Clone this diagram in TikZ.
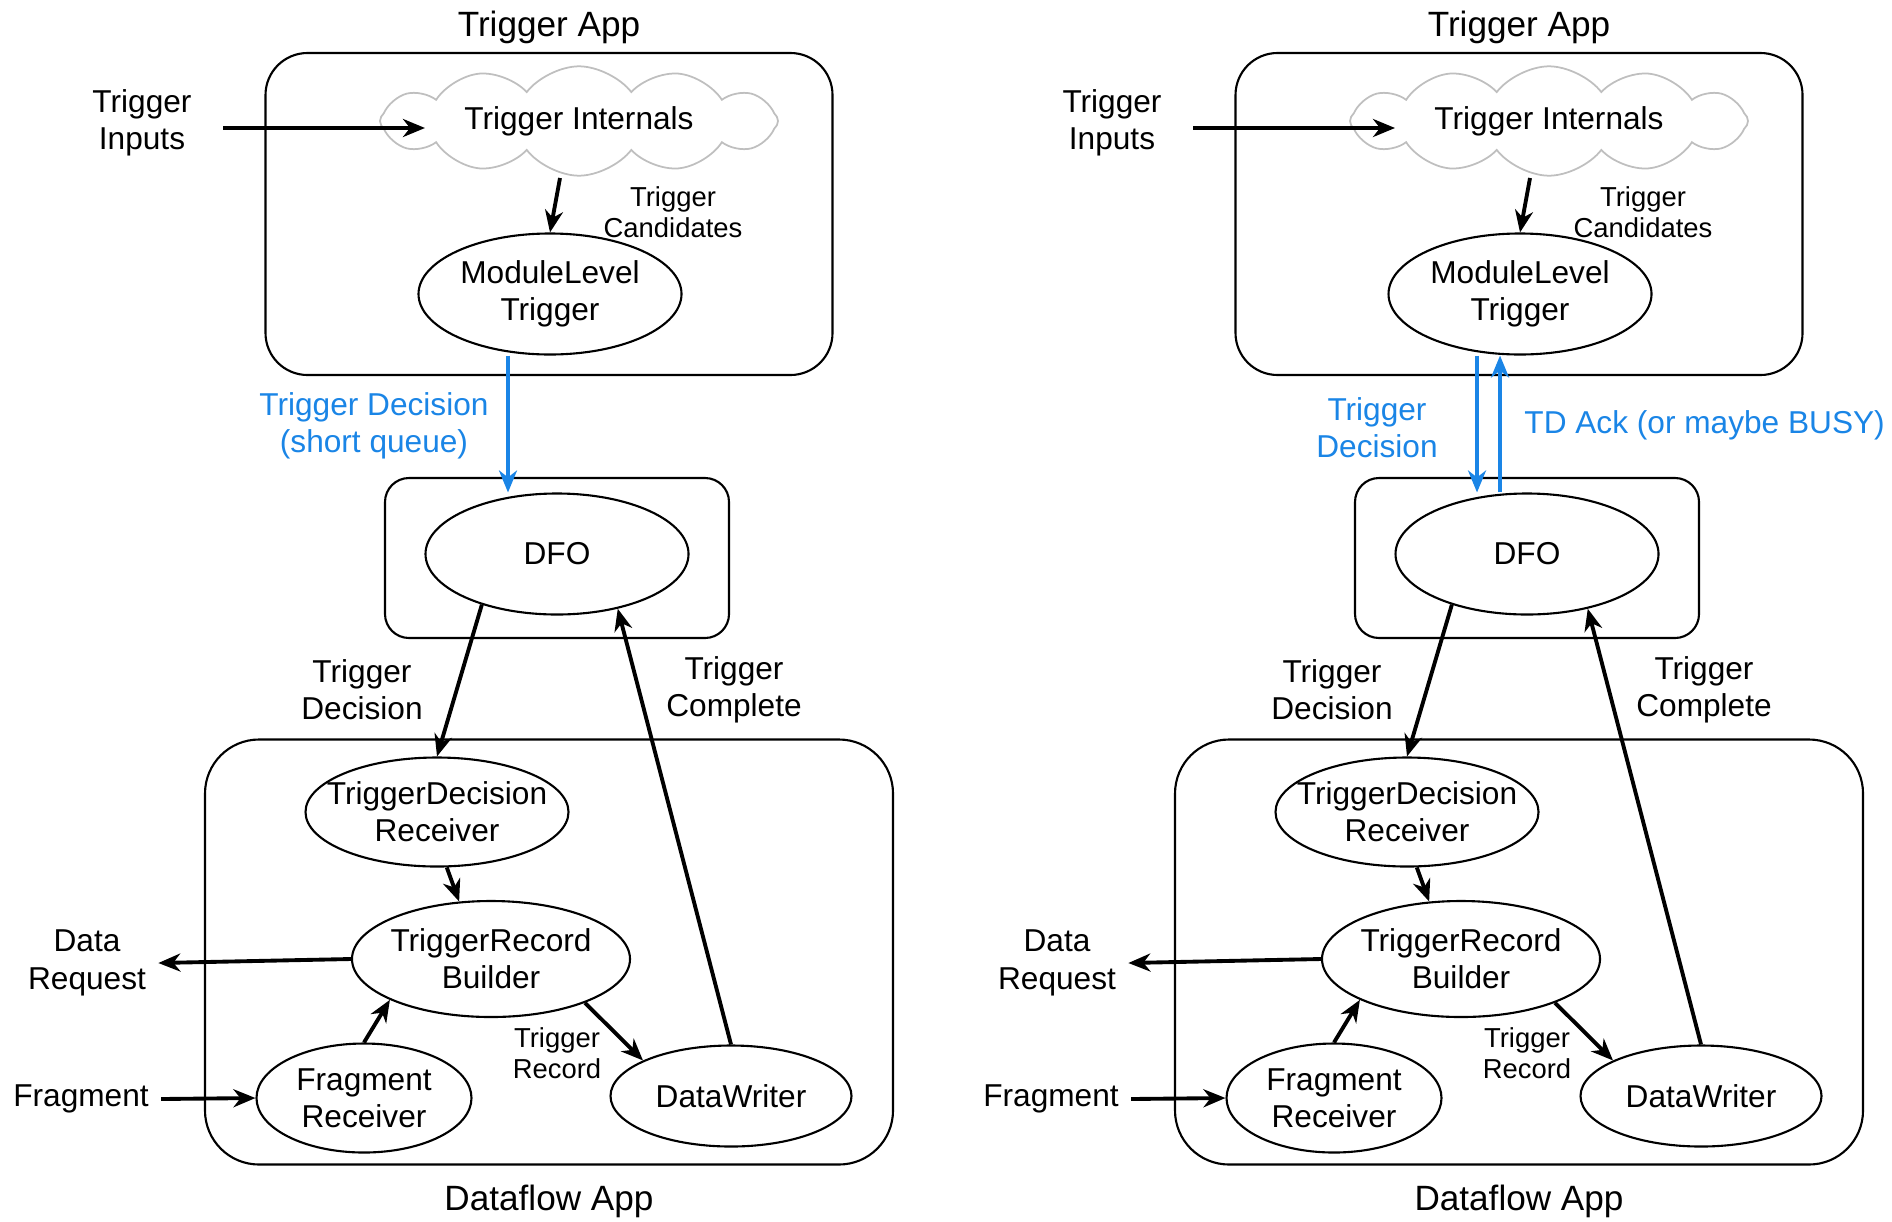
\documentclass[tikz,border=0pt]{standalone}
\usepackage{fontspec}
\setmainfont{Liberation Sans}
\usetikzlibrary{arrows.meta,shapes.geometric,shapes.symbols,positioning,calc}
\definecolor{tdblue}{RGB}{26,133,230}
\tikzset{
  app/.style={draw,line width=0.6pt,inner sep=0pt},
  proc/.style={draw,ellipse,line width=0.6pt,inner xsep=-0.6cm,inner ysep=-0.1cm,align=center,font=\fontsize{9}{10.6}\selectfont},
  lbl/.style={align=center,font=\fontsize{9}{10.6}\selectfont},
  small/.style={align=center,font=\fontsize{7.8}{8.9}\selectfont},
  title/.style={font=\fontsize{10}{12}\selectfont},
  flow/.style={-{Stealth[length=2.2mm,width=1.8mm,inset=0.7mm]},line width=1.1pt},
  td/.style={flow,draw=tdblue,line width=1pt}
}
\begin{document}
\begin{tikzpicture}
\useasboundingbox (0,0) rectangle (18.92,-12.21);
\foreach \p/\dx in {l/0,r/9.70}{
\begin{scope}[xshift=\dx cm]
\node[title] (\p-ttitle) at (5.49,-0.27) {Trigger App};
\node[app,rounded corners=0.42cm,minimum width=5.67cm,minimum height=3.22cm] (\p-tapp) at (5.49,-2.14) {};
\node[cloud,draw=gray!50,line width=0.5pt,cloud puffs=12,cloud puff arc=105,aspect=4.6,minimum width=3.98cm,minimum height=0.9cm,inner sep=0pt,lbl] (\p-cloud) at (5.79,-1.21) {Trigger Internals};
\node[lbl] (\p-in) at (1.42,-1.23) {Trigger\\Inputs};
\coordinate (\p-instart) at (2.23,-1.28);
\coordinate (\p-inend) at (4.25,-1.28);
\coordinate (\p-tcstart) at (5.60,-1.78);
\node[proc,minimum width=2.63cm,minimum height=1.21cm] (\p-mlt) at (5.50,-2.94) {ModuleLevel\\Trigger};
\node[small] (\p-tc) at (6.73,-2.12) {Trigger\\Candidates};
\node[app,rounded corners=0.24cm,minimum width=3.44cm,minimum height=1.60cm] (\p-dfobox) at (5.57,-5.58) {};
\node[proc,minimum width=2.63cm,minimum height=1.21cm] (\p-dfo) at (5.57,-5.54) {DFO};
\node[app,rounded corners=0.54cm,minimum width=6.88cm,minimum height=4.25cm] (\p-dapp) at (5.49,-9.52) {};
\node[title] (\p-dtitle) at (5.49,-12.01) {Dataflow App};
\node[proc,minimum width=2.63cm,minimum height=1.09cm] (\p-tdr) at (4.37,-8.12) {TriggerDecision\\Receiver};
\node[proc,minimum width=2.78cm,minimum height=1.16cm] (\p-trb) at (4.91,-9.59) {TriggerRecord\\Builder};
\node[proc,minimum width=2.15cm,minimum height=1.09cm] (\p-fr) at (3.64,-10.98) {Fragment\\Receiver};
\node[proc,minimum width=2.41cm,minimum height=1.01cm] (\p-dw) at (7.31,-10.96) {DataWriter};
\node[lbl] (\p-dr) at (0.87,-9.63) {Data\\Request};
\node[lbl] (\p-frag) at (0.81,-10.99) {Fragment};
\node[lbl] (\p-tdl) at (3.62,-6.90) {Trigger\\Decision};
\node[lbl] (\p-tcl) at (7.34,-6.90) {Trigger\\Complete};
\node[small] (\p-trl) at (5.57,-10.53) {Trigger\\Record};
\draw[flow,line width=1.4pt] (\p-instart) -- (\p-inend);
\draw[flow] (\p-tcstart) -- (\p-mlt.north);
\draw[flow] (\p-dfo.214) -- (\p-tdr.north);
\draw[flow] (\p-dw.north) -- (\p-dfo.-42);
\draw[flow] (\p-tdr.-80) -- (\p-trb.119);
\draw[flow] (\p-trb.west) -- (\p-dr.east);
\draw[flow] (\p-frag.east) -- (\p-fr.west);
\draw[flow] (\p-fr.north) -- (\p-trb.202);
\draw[flow] (\p-trb.-25) -- (\p-dw.158);
\end{scope}
}
\coordinate (l-tdx) at (5.08,0);
\draw[td] (l-tdx |- l-mlt.south) -- (l-tdx |- l-dfo.north);
\node[lbl,text=tdblue] (l-tdlbl) at (3.74,-4.26) {Trigger Decision\\(short queue)};
\coordinate (r-tdx) at (14.77,0);
\coordinate (r-ackx) at (15.00,0);
\draw[td] (r-tdx |- r-mlt.south) -- (r-tdx |- r-dfo.north);
\draw[td] (r-ackx |- r-dfo.north) -- (r-ackx |- r-mlt.south);
\node[lbl,text=tdblue] (r-tdlbl) at (13.77,-4.28) {Trigger\\Decision};
\node[lbl,text=tdblue,anchor=west] (r-acklbl) at (15.12,-4.25) {TD Ack (or maybe BUSY)};
\end{tikzpicture}
\end{document}
